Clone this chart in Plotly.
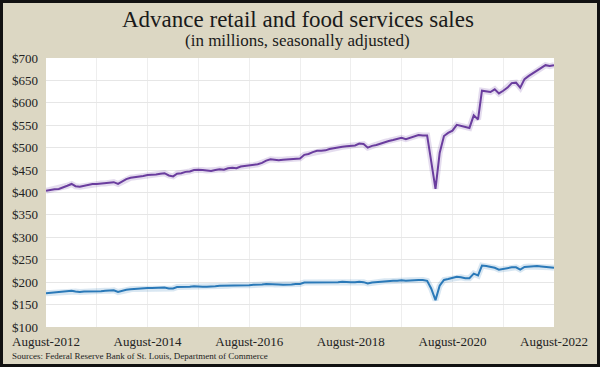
import pandas as pd
import plotly.graph_objects as go

# Monthly, August 2012 .. August 2022 (121 months)
months = pd.date_range("2012-08-01", periods=121, freq="MS")

total_sales = [
    404, 406, 407, 408, 411, 415, 419, 414, 413, 415, 417, 419,   # Aug12-Jul13
    419, 420, 420, 422, 423, 419, 424, 430, 433, 434, 435, 437,   # Aug13-Jul14
    439, 439, 440, 442, 443, 438, 436, 442, 443, 446, 447, 450,   # Aug14-Jul15
    451, 450, 449, 448, 450, 452, 451, 454, 455, 454, 458, 459,   # Aug15-Jul16
    460, 461, 463, 466, 471, 474, 473, 472, 473, 474, 474, 475,   # Aug16-Jul17
    476, 484, 486, 490, 493, 493, 494, 497, 499, 501, 502, 503,   # Aug17-Jul18
    504, 505, 509, 508, 500, 504, 506, 509, 513, 515, 517, 519,   # Aug18-Jul19
    522, 519, 522, 525, 528, 527, 527, 470, 408, 488, 526, 533,   # Aug19-Jul20
    538, 551, 549, 546, 544, 572, 563, 627, 626, 624, 630, 621,   # Aug20-Jul21
    627, 634, 644, 645, 634, 653, 660, 666, 672, 678, 684, 682,   # Aug21-Jul22
    684,                                                          # Aug22
]

other_sales = [
    175, 176, 176, 177, 178, 180, 181, 179, 178, 179, 179, 180,
    180, 180, 181, 181, 182, 178, 181, 183, 184, 185, 185, 186,
    187, 187, 187, 188, 188, 186, 186, 189, 189, 190, 190, 191,
    190, 190, 190, 190, 191, 192, 192, 192, 193, 192, 193, 193,
    193, 194, 194, 195, 196, 196, 195, 195, 194, 194, 195, 196,
    196, 199, 199, 199, 200, 200, 199, 200, 200, 200, 201, 200,
    200, 200, 201, 200, 197, 199, 200, 201, 202, 202, 203, 203,
    204, 203, 204, 204, 205, 205, 203, 186, 160, 192, 205, 207,
    209, 212, 211, 209, 209, 219, 215, 237, 236, 234, 232, 228,
    230, 231, 233, 233, 228, 234, 235, 235, 236, 235, 234, 233,
    232,
]

tick_dates = pd.date_range("2012-08-01", periods=11, freq="12MS")
tick_labels = ["August-2012", "", "August-2014", "", "August-2016", "",
               "August-2018", "", "August-2020", "", "August-2022"]

title_text = "Advance retail and food services sales"
subtitle_text = "(in millions, seasonally adjusted)"
source_text = "Sources: Federal Reserve Bank of St. Louis, Department of Commerce"

BG = "#DCD7C3"
PURPLE = "#6A3D9E"
BLUE = "#2A79B8"
FONT = "Liberation Serif"

fig = go.Figure()
# soft shadows
fig.add_trace(go.Scatter(x=months, y=total_sales, mode="lines",
                         line=dict(color="rgba(106,61,158,0.18)", width=6),
                         hoverinfo="skip", showlegend=False))
fig.add_trace(go.Scatter(x=months, y=other_sales, mode="lines",
                         line=dict(color="rgba(42,121,184,0.18)", width=6),
                         hoverinfo="skip", showlegend=False))
fig.add_trace(go.Scatter(x=months, y=total_sales, mode="lines",
                         line=dict(color=PURPLE, width=2), showlegend=False))
fig.add_trace(go.Scatter(x=months, y=other_sales, mode="lines",
                         line=dict(color=BLUE, width=2), showlegend=False))

L, R, T, B = 45, 40, 58, 40
W, H = 600, 367
pw, ph = W - L - R, H - T - B

def px_to_paper_x(px):
    return (px - L) / pw

def px_to_paper_y(py):
    return 1 - (py - T) / ph

fig.update_layout(
    width=W, height=H,
    margin=dict(l=L, r=R, t=T, b=B),
    paper_bgcolor=BG,
    plot_bgcolor="white",
    font=dict(family=FONT, color="#222"),
    xaxis=dict(
        range=[months[0], months[-1]],
        tickvals=list(tick_dates), ticktext=tick_labels,
        showgrid=True, gridcolor="#EEEEEE", gridwidth=1,
        zeroline=False, showline=False, ticks="",
        tickfont=dict(size=13, family=FONT, color="#222"),
        ticklabelstandoff=5,
    ),
    yaxis=dict(
        range=[100, 700], dtick=50, tickprefix="$",
        showgrid=True, gridcolor="#E6E6E6", gridwidth=1,
        zeroline=False, showline=False, ticks="",
        tickfont=dict(size=13, family=FONT, color="#222"),
        ticklabelstandoff=7,
    ),
    annotations=[
        dict(text=title_text, xref="paper", yref="paper",
             x=px_to_paper_x(300), y=px_to_paper_y(19),
             xanchor="center", yanchor="middle", showarrow=False,
             font=dict(size=23, family=FONT, color="#1a1a1a")),
        dict(text=subtitle_text, xref="paper", yref="paper",
             x=px_to_paper_x(300), y=px_to_paper_y(41),
             xanchor="center", yanchor="middle", showarrow=False,
             font=dict(size=17, family=FONT, color="#1a1a1a")),
        dict(text=source_text, xref="paper", yref="paper",
             x=px_to_paper_x(8), y=px_to_paper_y(356),
             xanchor="left", yanchor="middle", showarrow=False,
             font=dict(size=9, family=FONT, color="#222")),
    ],
)

frame_js = (
    "document.body.style.margin='0';"
    "document.body.style.padding='0';"
    "document.body.style.overflow='hidden';"
    "document.body.insertAdjacentHTML('beforeend',"
    "'<div style=\"position:fixed;left:0;top:0;width:600px;height:367px;"
    "box-sizing:border-box;border:3px solid #111;pointer-events:none;z-index:10\"></div>');"
)

fig.write_html(
    "out.html",
    config={"displayModeBar": False},
    post_script=frame_js,
)
